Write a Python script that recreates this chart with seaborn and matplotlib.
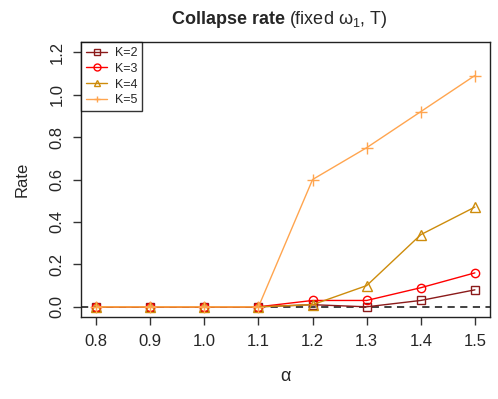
import numpy as np
import pandas as pd
import matplotlib
matplotlib.use("Agg")
import matplotlib.pyplot as plt
import seaborn as sns

# ── Data ──────────────────────────────────────────────
alpha = [0.8, 0.9, 1.0, 1.1, 1.2, 1.3, 1.4, 1.5]
k2 = [0.0, 0.0, 0.0, 0.0, 0.01, 0.0, 0.03, 0.08]
k3 = [0.0, 0.0, 0.0, 0.0, 0.03, 0.03, 0.09, 0.16]
k4 = [0.0, 0.0, 0.0, 0.0, 0.01, 0.10, 0.34, 0.47]
k5 = [0.0, 0.0, 0.0, 0.0, 0.60, 0.75, 0.92, 1.09]
labels = ['K=2', 'K=3', 'K=4', 'K=5']

colors = ['#8B1A1A', '#FF0000', '#CD8C0C', '#FFA54F']
markers = ['s', 'o', '^', '+']
msizes = [5.5, 6, 7, 8]

df = pd.DataFrame({'alpha': alpha * 4,
                   'rate': k2 + k3 + k4 + k5,
                   'K': [l for l in labels for _ in alpha]})

sns.set_style('ticks')
plt.rcParams['font.family'] = ['Liberation Sans', 'DejaVu Sans']
plt.rcParams['mathtext.fontset'] = 'custom'
plt.rcParams['mathtext.rm'] = 'Liberation Sans'
plt.rcParams['mathtext.it'] = 'Liberation Sans'

fig = plt.figure(figsize=(4.98, 3.99), dpi=100)
ax = fig.add_axes([0.1627, 0.2055, 0.8213, 0.6892])

ax.axhline(0, color='#333333', linestyle=(0, (4, 3)), linewidth=1.3, zorder=1)

for lab, c, m, ms in zip(labels, colors, markers, msizes):
    sub = df[df['K'] == lab]
    sns.lineplot(x='alpha', y='rate', data=sub, ax=ax, color=c, linewidth=1,
                 marker=m, markersize=ms,
                 markerfacecolor='none', markeredgecolor=c,
                 markeredgewidth=1, label=lab, zorder=3)

ax.set_xlim(0.772, 1.528)
ax.set_ylim(-0.048, 1.248)
ax.set_xticks(alpha)
ax.set_xticklabels([f'{a:.1f}' for a in alpha], fontsize=12)
ax.set_yticks([0, 0.2, 0.4, 0.6, 0.8, 1.0, 1.2])
ax.set_yticklabels(['0.0', '0.2', '0.4', '0.6', '0.8', '1.0', '1.2'],
                   fontsize=12, rotation=90, va='center')
ax.tick_params(direction='out', length=6, width=1, color='#333333', pad=6)
for s in ax.spines.values():
    s.set_visible(True)
    s.set_color('#222222')
    s.set_linewidth(1)

ax.set_xlabel(r'$\alpha$', fontsize=13, labelpad=14)
ax.set_ylabel('Rate', fontsize=12, labelpad=14)

fig.text(0.573, 0.952, 'Collapse rate', fontsize=13, fontweight='bold',
         ha='right', va='center')
fig.text(0.58, 0.952, r'(fixed $\omega_1$, T)', fontsize=13,
         ha='left', va='center')

leg = ax.legend(loc='upper left', fontsize=9, frameon=True, fancybox=False,
                edgecolor='black', borderaxespad=0, handlelength=1.7,
                borderpad=0.4, labelspacing=0.3, handletextpad=0.6)
leg.get_frame().set_linewidth(1)
for h in leg.legend_handles:
    h.set_markersize(5)

fig.savefig('out.png', dpi=100)
print("saved")
